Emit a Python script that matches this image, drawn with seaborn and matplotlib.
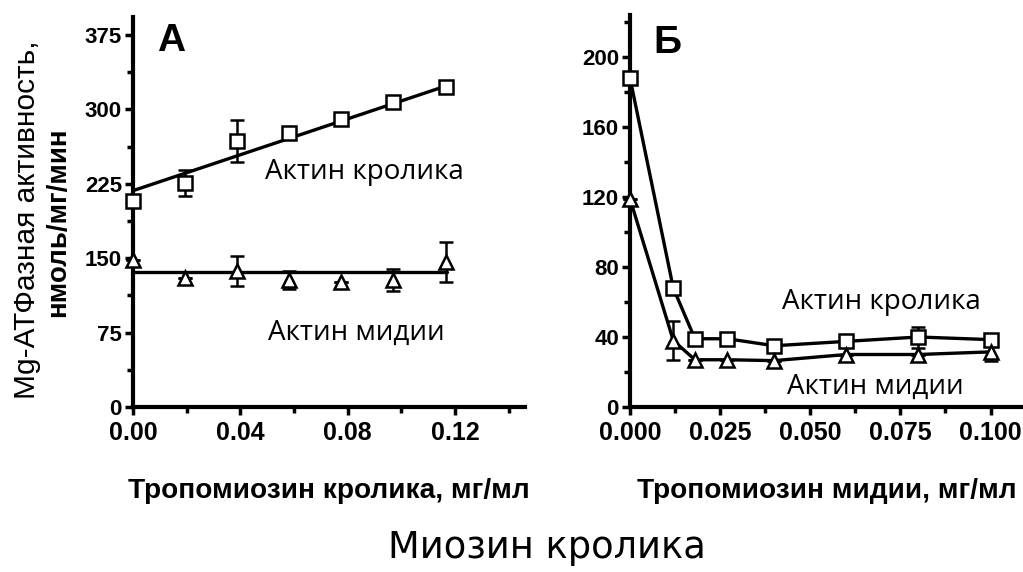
import numpy as np
import pandas as pd
import matplotlib
matplotlib.use("Agg")
import matplotlib.pyplot as plt
import seaborn as sns
from matplotlib.ticker import MultipleLocator, FormatStrFormatter

# ---------------- data ----------------
# Panel A: rabbit tropomyosin
a_x = [0.0, 0.0194, 0.0388, 0.0582, 0.0776, 0.0970, 0.1164]
a_rabbit = [208, 226, 268, 276, 290, 307, 322]
a_rabbit_err = [0, 13, 21, 0, 0, 0, 0]
a_mussel = [148, 130, 137, 128, 126, 128, 146]
a_mussel_err = [0, 0, 15, 9, 0, 11, 20]
a_fit_x = [0.0, 0.117]
a_rabbit_fit = (218, 905)     # intercept, slope
a_mussel_fit = 136            # constant level

# Panel B: mussel tropomyosin
b_x = [0.0, 0.012, 0.018, 0.027, 0.040, 0.060, 0.080, 0.100]
b_rabbit = [188, 68, 39, 39, 35, 37.5, 40, 38.5]
b_rabbit_err = [0, 0, 0, 0, 0, 0, 6, 3]
b_mussel = [119, 38, 27, 27, 26.5, 30, 30, 31.5]
b_mussel_err = [0, 11, 0, 0, 0, 0, 0, 5]

label_rabbit = "Актин кролика"
label_mussel = "Актин мидии"

# ---------------- style ----------------
sns.set_theme(style="ticks")
plt.rcParams["font.family"] = ["Liberation Sans", "DejaVu Sans"]
for k in ("text.color", "axes.labelcolor", "xtick.color", "ytick.color", "axes.edgecolor"):
    plt.rcParams[k] = "black"

W, H = 1023, 572
fig = plt.figure(figsize=(W / 100, H / 100), dpi=100)

def px_axes(l, t, r, b):
    return fig.add_axes([l / W, 1 - b / H, (r - l) / W, (b - t) / H])

axA = px_axes(133, 17, 525, 407)
axB = px_axes(630, 15, 1023, 407)

LW = 2.4
MEW = 1.8
mk_kw = dict(markerfacecolor="white", markeredgecolor="black", markeredgewidth=MEW)
ANN_FONT = ["Open Sans", "DejaVu Sans"]

def style_axis(ax):
    sns.despine(ax=ax)
    for s in ("left", "bottom"):
        ax.spines[s].set_linewidth(3)
        ax.spines[s].set_color("black")
    ax.tick_params(which="major", direction="out", length=6, width=2.5, color="black", pad=2)
    ax.tick_params(which="minor", direction="out", length=4, width=2.5, color="black")
    ax.tick_params(axis="x", labelsize=18, pad=4, labelcolor="black")
    ax.tick_params(axis="y", labelsize=16, labelcolor="black")
    for lab in ax.get_xticklabels() + ax.get_yticklabels():
        lab.set_fontweight("bold")
    ax.set_xlabel("")
    ax.set_ylabel("")
    ax.set_facecolor("none")

# ---------- Panel A ----------
fx = np.array(a_fit_x)
sns.lineplot(x=fx, y=a_rabbit_fit[0] + a_rabbit_fit[1] * fx, ax=axA, color="black", lw=LW, clip_on=False, zorder=2)
sns.lineplot(x=fx, y=np.full_like(fx, a_mussel_fit), ax=axA, color="black", lw=LW, clip_on=False, zorder=2)
axA.errorbar(a_x, a_rabbit, yerr=a_rabbit_err, fmt="none", ecolor="black", elinewidth=1.8, capsize=5, capthick=1.8, zorder=2, clip_on=False)
axA.errorbar(a_x, a_mussel, yerr=a_mussel_err, fmt="none", ecolor="black", elinewidth=1.8, capsize=5, capthick=1.8, zorder=2, clip_on=False)
axA.plot(a_x, a_rabbit, ls="none", marker="s", markersize=10, clip_on=False, zorder=4, **mk_kw)
axA.plot(a_x, a_mussel, ls="none", marker="^", markersize=10, clip_on=False, zorder=4, **mk_kw)
axA.set_xlim(0, 0.146)
axA.set_ylim(0, 393)
axA.xaxis.set_major_locator(MultipleLocator(0.04))
axA.xaxis.set_minor_locator(MultipleLocator(0.02))
axA.xaxis.set_major_formatter(FormatStrFormatter("%.2f"))
axA.yaxis.set_major_locator(MultipleLocator(75))
axA.yaxis.set_minor_locator(MultipleLocator(37.5))
style_axis(axA)
axA.text(0.0088, 369, "А", fontsize=28, fontweight="bold", va="center", ha="left")
axA.text(0.0492, 237, label_rabbit, fontsize=20, family=ANN_FONT, va="center", ha="left")
axA.text(0.0503, 75, label_mussel, fontsize=20, family=ANN_FONT, va="center", ha="left")

# ---------- Panel B ----------
axB.errorbar(b_x, b_rabbit, yerr=b_rabbit_err, fmt="none", ecolor="black", elinewidth=1.8, capsize=5, capthick=1.8, zorder=2, clip_on=False)
axB.errorbar(b_x, b_mussel, yerr=b_mussel_err, fmt="none", ecolor="black", elinewidth=1.8, capsize=5, capthick=1.8, zorder=2, clip_on=False)
sns.lineplot(x=b_x, y=b_rabbit, ax=axB, color="black", lw=LW, marker="s", markersize=10, clip_on=False, zorder=3, **mk_kw)
sns.lineplot(x=b_x, y=b_mussel, ax=axB, color="black", lw=LW, marker="^", markersize=10, clip_on=False, zorder=3, **mk_kw)
axB.set_xlim(0, 0.109)
axB.set_ylim(0, 224)
axB.xaxis.set_major_locator(MultipleLocator(0.025))
axB.xaxis.set_minor_locator(MultipleLocator(0.0125))
axB.xaxis.set_major_formatter(FormatStrFormatter("%.3f"))
axB.yaxis.set_major_locator(MultipleLocator(40))
axB.yaxis.set_minor_locator(MultipleLocator(20))
style_axis(axB)
axB.text(0.0064, 208, "Б", fontsize=28, fontweight="bold", va="center", ha="left")
axB.text(0.0422, 60, label_rabbit, fontsize=20, family=ANN_FONT, va="center", ha="left")
axB.text(0.0436, 11.5, label_mussel, fontsize=20, family=ANN_FONT, va="center", ha="left")

# ---------- labels ----------
fig.text(27 / W, 1 - 220 / H, "Mg-АТФазная активность,", rotation=90, fontsize=21.5, ha="center", va="center")
fig.text(58 / W, 1 - 222 / H, "нмоль/мг/мин", rotation=90, fontsize=20, fontweight="bold", ha="center", va="center")
fig.text(329 / W, 1 - 491 / H, "Тропомиозин кролика, мг/мл", fontsize=20.2, fontweight="bold", ha="center", va="center")
fig.text(827 / W, 1 - 491 / H, "Тропомиозин мидии, мг/мл", fontsize=20.2, fontweight="bold", ha="center", va="center")
fig.text(547 / W, 1 - 548 / H, "Миозин кролика", fontsize=26.5, family=["DejaVu Sans"], ha="center", va="center")

fig.savefig("out.png", dpi=100, facecolor="white")
